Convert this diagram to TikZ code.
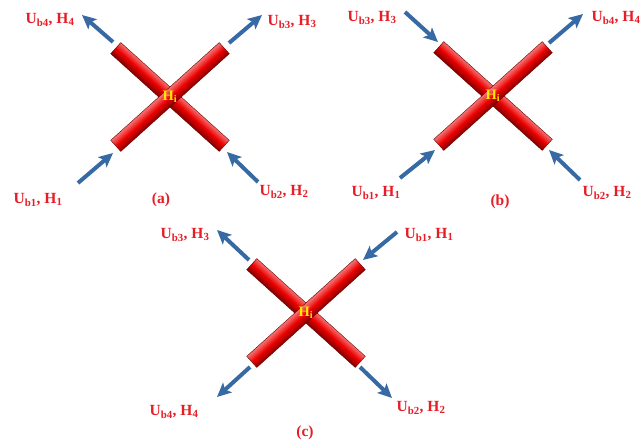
\documentclass[tikz,border=0pt]{standalone}
\usepackage{fontspec}
\setmainfont{Liberation Serif}
\usetikzlibrary{arrows.meta}
\definecolor{lblred}{RGB}{232,28,36}
\definecolor{barred}{RGB}{236,0,0}
\definecolor{arrblue}{RGB}{55,105,165}
\definecolor{hiyel}{RGB}{255,232,0}
\tikzset{
  lbl/.style={text=lblred, font=\fontsize{15.5}{17}\selectfont\bfseries, inner sep=0pt},
  panelcap/.style={text=lblred, font=\fontsize{15.5}{17}\selectfont\bfseries, inner sep=0pt},
  hub/.style={text=hiyel, font=\fontsize{14.5}{16}\selectfont\bfseries, inner sep=0pt},
  bar/.style={shape=rectangle, minimum width=146pt, minimum height=15pt, inner sep=0pt,
    top color=barred!55!white, bottom color=barred!55!black, middle color=barred,
    draw=barred!45!black, line width=0.4pt},
  flow/.style={draw=arrblue, line width=4pt,
    -{Stealth[length=14pt,width=13pt,inset=3pt]}}
}
\newcommand{\ulab}[2]{U\textsubscript{b#1}, H\textsubscript{#2}}
\begin{document}
\begin{tikzpicture}[x=1pt,y=-1pt]
\useasboundingbox (0,0) rectangle (642,444);
% ---------- (a)
\begin{scope}[transform canvas={shift={(170,97)}, rotate=-42}]
  \node[bar] (aB2) at (0,0) {};
\end{scope}
\begin{scope}[transform canvas={shift={(170,97)}, rotate=42}]
  \node[bar] (aB1) at (0,0) {};
\end{scope}
\node[hub] (aH) at (170,97) {H\textsubscript{i}};
\coordinate (a1s) at (113,42);  \coordinate (a1e) at (82,15);
\coordinate (a2s) at (229,43);  \coordinate (a2e) at (262,15);
\coordinate (a3s) at (78,183);  \coordinate (a3e) at (113,153);
\coordinate (a4s) at (258,182); \coordinate (a4e) at (227,152);
\draw[flow] (a1s) -- (a1e);
\draw[flow] (a2s) -- (a2e);
\draw[flow] (a3s) -- (a3e);
\draw[flow] (a4s) -- (a4e);
\node[lbl] (aL4) at (50,20)  {\ulab{4}{4}};
\node[lbl] (aL3) at (292,22) {\ulab{3}{3}};
\node[lbl] (aL1) at (38,200) {\ulab{1}{1}};
\node[lbl] (aL2) at (284,192) {\ulab{2}{2}};
\node[panelcap] (aC) at (161,200) {(a)};
% ---------- (b)
\begin{scope}[transform canvas={shift={(493,96)}, rotate=-42}]
  \node[bar] (bB2) at (0,0) {};
\end{scope}
\begin{scope}[transform canvas={shift={(493,96)}, rotate=42}]
  \node[bar] (bB1) at (0,0) {};
\end{scope}
\node[hub] (bH) at (493,96) {H\textsubscript{i}};
\coordinate (b1s) at (405,12);  \coordinate (b1e) at (438,42);
\coordinate (b2s) at (549,43);  \coordinate (b2e) at (583,14);
\coordinate (b3s) at (400,178); \coordinate (b3e) at (435,150);
\coordinate (b4s) at (580,180); \coordinate (b4e) at (549,150);
\draw[flow] (b1s) -- (b1e);
\draw[flow] (b2s) -- (b2e);
\draw[flow] (b3s) -- (b3e);
\draw[flow] (b4s) -- (b4e);
\node[lbl] (bL3) at (372,18)  {\ulab{3}{3}};
\node[lbl] (bL4) at (616,18)  {\ulab{4}{4}};
\node[lbl] (bL1) at (376,193) {\ulab{1}{1}};
\node[lbl] (bL2) at (607,193) {\ulab{2}{2}};
\node[panelcap] (bC) at (500,202) {(b)};
% ---------- (c)
\begin{scope}[transform canvas={shift={(306,313)}, rotate=-42}]
  \node[bar] (cB2) at (0,0) {};
\end{scope}
\begin{scope}[transform canvas={shift={(306,313)}, rotate=42}]
  \node[bar] (cB1) at (0,0) {};
\end{scope}
\node[hub] (cH) at (306,313) {H\textsubscript{i}};
\coordinate (c1s) at (249,260); \coordinate (c1e) at (217,230);
\coordinate (c2s) at (397,232); \coordinate (c2e) at (363,260);
\coordinate (c3s) at (250,367); \coordinate (c3e) at (217,397);
\coordinate (c4s) at (360,367); \coordinate (c4e) at (392,398);
\draw[flow] (c1s) -- (c1e);
\draw[flow] (c2s) -- (c2e);
\draw[flow] (c3s) -- (c3e);
\draw[flow] (c4s) -- (c4e);
\node[lbl] (cL3) at (185,235) {\ulab{3}{3}};
\node[lbl] (cL1) at (429,235) {\ulab{1}{1}};
\node[lbl] (cL4) at (174,412) {\ulab{4}{4}};
\node[lbl] (cL2) at (421,408) {\ulab{2}{2}};
\node[panelcap] (cC) at (305,433) {(c)};
\end{tikzpicture}
\end{document}
